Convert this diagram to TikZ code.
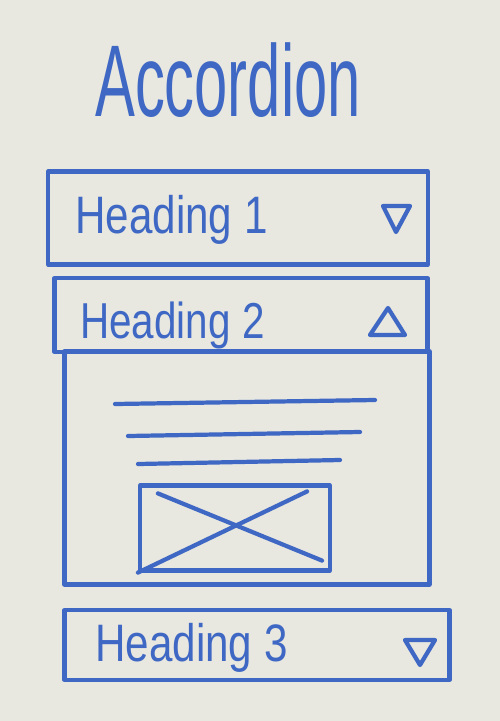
\documentclass[tikz,border=0pt]{standalone}
\usepackage{fontspec}
\setmainfont{Liberation Sans}
\usepackage{graphicx}
\usepackage{xcolor}
\definecolor{marker}{RGB}{62,104,196}
\definecolor{board}{RGB}{232,231,224}
\tikzset{
  pen/.style={draw=marker,line width=2.4pt,line cap=round,line join=round},
  panel/.style={pen,rectangle,inner sep=0pt},
  heading/.style={text=marker,anchor=west,inner sep=0pt},
}
\begin{document}
\begin{tikzpicture}[x=0.02cm,y=-0.02cm]
    \fill[board] (0,0) rectangle (500,721);
    \useasboundingbox (0,0) rectangle (500,721);
    \node[text=marker] (title) at (228,80) {\scalebox{0.85}[1.45]{\fontsize{40}{40}\selectfont Accordion}};
    % first section, closed
    \node[panel,minimum width=7.6cm,minimum height=1.86cm] (sec1) at (238,218) {};
    \node[heading] (head1) at (75,220) {\scalebox{1}[1.25]{\fontsize{24}{24}\selectfont Heading 1}};
    \draw[pen] (383,206) -- (410,206) -- (396,232) -- cycle;
    % second section, open
    \node[panel,minimum width=7.46cm,minimum height=1.48cm] (sec2) at (241,315) {};
    \node[heading] (head2) at (80,325) {\scalebox{1}[1.25]{\fontsize{23}{23}\selectfont Heading 2}};
    \draw[pen] (388,308) -- (405,335) -- (370,335) -- cycle;
    \node[panel,minimum width=7.3cm,minimum height=4.66cm] (body) at (247,468) {};
    \draw[pen] (115,404) -- (375,400);
    \draw[pen] (128,436) -- (360,432);
    \draw[pen] (138,464) -- (340,460);
    \node[panel,minimum width=3.8cm,minimum height=1.7cm] (image) at (235,528) {};
    \draw[pen] ([shift={(20,10)}]image.north west) -- ([shift={(-10,-12)}]image.south east);
    \draw[pen] (image.south west) -- ([shift={(-25,8)}]image.north east);
    % third section, closed
    \node[panel,minimum width=7.7cm,minimum height=1.4cm] (sec3) at (257,645) {};
    \node[heading] (head3) at (95,648) {\scalebox{1}[1.25]{\fontsize{24}{24}\selectfont Heading 3}};
    \draw[pen] (405,640) -- (435,640) -- (420,665) -- cycle;
\end{tikzpicture}
\end{document}
